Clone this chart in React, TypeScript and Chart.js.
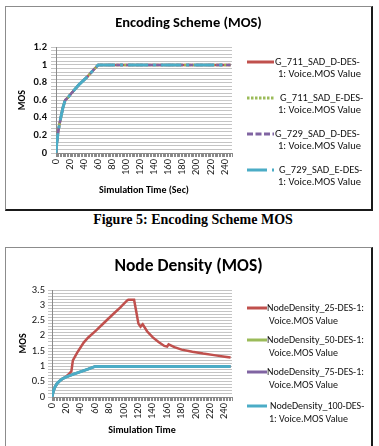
import React, { useEffect, useRef } from "react";
import { Chart, registerables } from "chart.js";

Chart.register(...registerables);

const FONT = "Carlito, Lato, 'Liberation Sans', Arial, sans-serif";

// ---------- Figure 5: Encoding Scheme (MOS) ----------
const ENC_TITLE = "Encoding Scheme (MOS)";
const ENC_X_TITLE = "Simulation Time (Sec)";
const ENC_Y_TITLE = "MOS";
const ENC_X_LABELS = [0, 20, 40, 60, 80, 100, 120, 140, 160, 180, 200, 220, 240];
const ENC_Y_LABELS = [0, 0.2, 0.4, 0.6, 0.8, 1, 1.2];
const ENC_TIME = [0, 1, 3, 5, 7, 10, 13, 17, 21, 33, 45, 55, 60, 248];
const ENC_G711_D = [0, 0.1, 0.24, 0.33, 0.41, 0.52, 0.6, 0.63, 0.67, 0.78, 0.87, 0.96, 1, 1];
const ENC_G711_E = [0, 0.1, 0.24, 0.33, 0.41, 0.52, 0.6, 0.63, 0.67, 0.78, 0.87, 0.96, 1, 1];
const ENC_G729_D = [0, 0.1, 0.24, 0.33, 0.41, 0.52, 0.6, 0.63, 0.67, 0.78, 0.87, 0.96, 1, 1];
const ENC_TIME_G729_E = [0, 1, 3, 5, 7, 10, 13, 17, 21, 33, 45, 55, 60, 238];
const ENC_G729_E = [0, 0.1, 0.24, 0.33, 0.41, 0.52, 0.6, 0.63, 0.67, 0.78, 0.87, 0.96, 1, 1];
const ENC_NAMES = [
  ["G_711_SAD_D-DES-", "1: Voice.MOS Value"],
  ["G_711_SAD_E-DES-", "1: Voice.MOS Value"],
  ["G_729_SAD_D-DES-", "1: Voice.MOS Value"],
  ["G_729_SAD_E-DES-", "1: Voice.MOS Value"],
];
const ENC_CAPTION = "Figure 5: Encoding Scheme MOS";

// ---------- Node Density (MOS) ----------
const ND_TITLE = "Node Density (MOS)";
const ND_X_TITLE = "Simulation Time";
const ND_Y_TITLE = "MOS";
const ND_X_LABELS = [0, 20, 40, 60, 80, 100, 120, 140, 160, 180, 200, 220, 240];
const ND_Y_LABELS = [0, 0.5, 1, 1.5, 2, 2.5, 3, 3.5];
const ND_TIME_25 = [0, 2, 4, 7, 10, 14, 20, 24, 27, 29, 35, 44, 50, 61, 72, 84, 95, 104, 106, 114, 117, 120, 123, 126, 132, 140, 148, 156, 160, 162, 170, 180, 195, 210, 225, 240, 248];
const ND_25 = [0, 0.2, 0.32, 0.44, 0.51, 0.59, 0.68, 0.76, 0.85, 1.2, 1.45, 1.78, 1.94, 2.17, 2.42, 2.69, 2.93, 3.15, 3.18, 3.18, 2.8, 2.4, 2.3, 2.38, 2.15, 1.95, 1.8, 1.67, 1.65, 1.72, 1.63, 1.55, 1.48, 1.42, 1.37, 1.32, 1.29];
const ND_TIME = [0, 2, 4, 7, 10, 14, 20, 30, 40, 50, 60, 248];
const ND_50 = [0, 0.2, 0.32, 0.44, 0.51, 0.59, 0.66, 0.75, 0.83, 0.91, 1, 1];
const ND_75 = [0, 0.2, 0.32, 0.44, 0.51, 0.59, 0.66, 0.75, 0.83, 0.91, 1, 1];
const ND_100 = [0, 0.2, 0.32, 0.44, 0.51, 0.59, 0.66, 0.75, 0.83, 0.91, 1, 1];
const ND_NAMES = [
  ["NodeDensity_25-DES-1:", "Voice.MOS Value"],
  ["NodeDensity_50-DES-1:", "Voice.MOS Value"],
  ["NodeDensity_75-DES-1:", "Voice.MOS Value"],
  ["NodeDensity_100-DES-", "1: Voice.MOS Value"],
];

const RED = "#C0504D";
const GREEN = "#9BBB59";
const PURPLE = "#8064A2";
const CYAN = "#4BACC6";

function zip(xs: number[], ys: number[]) {
  return ys.map((y, i) => ({ x: xs[i], y }));
}

function stepTicks(min: number, max: number, step: number) {
  const out: { value: number }[] = [];
  const n = Math.round((max - min) / step);
  for (let i = 0; i <= n; i++) out.push({ value: +(min + i * step).toFixed(6) });
  return out;
}

function labelIf(list: number[]) {
  return (v: any) => (list.some((l) => Math.abs(l - Number(v)) < 1e-6) ? String(Math.round(Number(v) * 10) / 10) : "");
}

type Ser = { label: string; xs: number[]; ys: number[]; color: string; dash: number[]; width: number; order: number };

function makeConfig(opts: any) {
  return {
    type: "line",
    data: {
      datasets: opts.series.map((s: Ser) => ({
        label: s.label,
        data: zip(s.xs, s.ys),
        borderColor: s.color,
        backgroundColor: s.color,
        borderWidth: s.width,
        borderDash: s.dash,
        pointRadius: 0,
        tension: 0,
        fill: false,
        order: s.order,
        xAxisID: "x",
        yAxisID: "y",
      })),
    },
    options: {
      animation: false,
      responsive: false,
      events: [],
      layout: { padding: 0 },
      plugins: {
        legend: { display: false },
        tooltip: { enabled: false },
        title: {
          display: true,
          text: opts.title,
          color: "#000",
          font: { family: FONT, size: opts.titleSize, weight: "bold" },
          padding: opts.titlePad,
        },
      },
      scales: {
        x: {
          type: "linear",
          min: 0,
          max: opts.xMax,
          afterBuildTicks: (s: any) => {
            s.ticks = stepTicks(0, opts.xMax, 2);
          },
          afterFit: (s: any) => {
            s.height = opts.xHeight;
          },
          grid: { drawOnChartArea: false, drawTicks: true, tickLength: 4, color: "#8a8a8a" },
          border: { display: true, color: "#8a8a8a" },
          ticks: {
            autoSkip: false,
            minRotation: 90,
            maxRotation: 90,
            padding: 2,
            color: "#222",
            font: { family: FONT, size: 10.5 },
            callback: labelIf(opts.xLabels),
          },
          title: {
            display: true,
            text: opts.xTitle,
            color: "#000",
            font: { family: FONT, size: 10, weight: "bold" },
            padding: { top: 0, bottom: opts.xTitlePadBottom },
          },
        },
        y: {
          type: "linear",
          position: "left",
          min: 0,
          max: opts.yMax,
          afterBuildTicks: (s: any) => {
            s.ticks = stepTicks(0, opts.yMax, opts.yMinor);
          },
          afterFit: (s: any) => {
            s.width = opts.yWidth;
          },
          grid: { color: "#c4c4c4", lineWidth: 1, tickLength: opts.yTickLen, drawTicks: true },
          border: { display: true, color: "#8a8a8a" },
          ticks: {
            autoSkip: false,
            padding: opts.yTickPad,
            color: "#111",
            font: { family: FONT, size: 10.5, weight: opts.yTickBold ? "bold" : "normal" },
            callback: labelIf(opts.yLabels),
          },
          title: {
            display: true,
            text: opts.yTitle,
            color: "#000",
            font: { family: FONT, size: 10, weight: "bold" },
            padding: { top: opts.yTitlePadTop, bottom: 0 },
          },
        },
        legendSpace: {
          type: "linear",
          position: "right",
          min: 0,
          max: 1,
          afterFit: (s: any) => {
            s.width = opts.rightSpace;
          },
          grid: { display: false, drawOnChartArea: false },
          border: { display: false },
          ticks: { display: false },
          title: { display: false },
        },
      },
    },
  };
}

function ChartCanvas({ config, left, top, width, height }: any) {
  const ref = useRef<HTMLCanvasElement>(null);
  useEffect(() => {
    if (!ref.current) return;
    const chart = new Chart(ref.current, config);
    return () => chart.destroy();
  }, []);
  return (
    <canvas
      ref={ref}
      width={width}
      height={height}
      style={{ position: "absolute", left, top, width, height, display: "block" }}
    />
  );
}

type LegItem = { lines: string[]; color: string; dash: string; width: number; dx1: number; dx2: number };

function Legend({ items, x0, sampleW, textX, ys, gap, fontSize }: any) {
  return (
    <>
      {items.map((it: LegItem, i: number) => (
        <React.Fragment key={i}>
          <svg
            style={{ position: "absolute", left: x0, top: ys[i] - 4, overflow: "visible" }}
            width={sampleW}
            height={8}
          >
            <line x1={0} y1={4} x2={sampleW} y2={4} stroke={it.color} strokeWidth={it.width} strokeDasharray={it.dash} />
          </svg>
          <div
            style={{
              position: "absolute",
              left: textX + it.dx1,
              top: ys[i] - fontSize * 0.6,
              fontSize,
              lineHeight: fontSize * 1.2 + "px",
              fontFamily: FONT,
              whiteSpace: "nowrap",
              color: "#111",
            }}
          >
            {it.lines[0]}
          </div>
          <div
            style={{
              position: "absolute",
              left: textX + it.dx2,
              top: ys[i] + gap - fontSize * 0.6,
              fontSize,
              lineHeight: fontSize * 1.2 + "px",
              fontFamily: FONT,
              whiteSpace: "nowrap",
              color: "#111",
            }}
          >
            {it.lines[1]}
          </div>
        </React.Fragment>
      ))}
    </>
  );
}

export default function App() {
  const encSeries: Ser[] = [
    { label: ENC_NAMES[0].join(""), xs: ENC_TIME, ys: ENC_G711_D, color: RED, dash: [], width: 2.5, order: 4 },
    { label: ENC_NAMES[1].join(""), xs: ENC_TIME, ys: ENC_G711_E, color: GREEN, dash: [2.5, 1.5], width: 2.5, order: 3 },
    { label: ENC_NAMES[2].join(""), xs: ENC_TIME, ys: ENC_G729_D, color: PURPLE, dash: [7, 3], width: 2.5, order: 2 },
    { label: ENC_NAMES[3].join(""), xs: ENC_TIME_G729_E, ys: ENC_G729_E, color: CYAN, dash: [20, 5, 3, 5], width: 3, order: 1 },
  ];
  const ndSeries: Ser[] = [
    { label: ND_NAMES[0].join(" "), xs: ND_TIME_25, ys: ND_25, color: RED, dash: [], width: 2.5, order: 4 },
    { label: ND_NAMES[1].join(" "), xs: ND_TIME, ys: ND_50, color: GREEN, dash: [], width: 2.5, order: 3 },
    { label: ND_NAMES[2].join(" "), xs: ND_TIME, ys: ND_75, color: PURPLE, dash: [], width: 2.5, order: 2 },
    { label: ND_NAMES[3].join(" "), xs: ND_TIME, ys: ND_100, color: CYAN, dash: [], width: 3, order: 1 },
  ];

  const encConfig = makeConfig({
    series: encSeries,
    title: ENC_TITLE,
    titleSize: 14.5,
    titlePad: { top: 8, bottom: 15 },
    xTitle: ENC_X_TITLE,
    yTitle: ENC_Y_TITLE,
    xLabels: ENC_X_LABELS,
    yLabels: ENC_Y_LABELS,
    xMax: 250,
    yMax: 1.2,
    yMinor: 0.04,
    yWidth: 50,
    xHeight: 56,
    xTitlePadBottom: 13,
    yTitlePadTop: 10,
    rightSpace: 139,
    yTickBold: true,
    yTickLen: 5,
    yTickPad: 4,
  });
  const ndConfig = makeConfig({
    series: ndSeries,
    title: ND_TITLE,
    titleSize: 17.5,
    titlePad: { top: 8, bottom: 13 },
    xTitle: ND_X_TITLE,
    yTitle: ND_Y_TITLE,
    xLabels: ND_X_LABELS,
    yLabels: ND_Y_LABELS,
    xMax: 250,
    yMax: 3.5,
    yMinor: 0.1,
    yWidth: 46,
    xHeight: 49,
    xTitlePadBottom: 10,
    yTitlePadTop: 11,
    rightSpace: 139,
    yTickBold: false,
    yTickLen: 4,
    yTickPad: 3,
  });

  const encLeg: LegItem[] = [
    { lines: ENC_NAMES[0], color: RED, dash: "", width: 3, dx1: 0, dx2: 3 },
    { lines: ENC_NAMES[1], color: GREEN, dash: "2.5,1.5", width: 3, dx1: 5, dx2: 3 },
    { lines: ENC_NAMES[2], color: PURPLE, dash: "6,2.5", width: 3, dx1: 0, dx2: 3 },
    { lines: ENC_NAMES[3], color: CYAN, dash: "20,5,3,5", width: 3, dx1: 4, dx2: 3 },
  ];
  const ndLeg: LegItem[] = [
    { lines: ND_NAMES[0], color: RED, dash: "", width: 3, dx1: 0, dx2: 2 },
    { lines: ND_NAMES[1], color: GREEN, dash: "", width: 3, dx1: 0, dx2: 2 },
    { lines: ND_NAMES[2], color: PURPLE, dash: "", width: 3, dx1: 0, dx2: 2 },
    { lines: ND_NAMES[3], color: CYAN, dash: "", width: 3, dx1: 3, dx2: 2 },
  ];

  const boxStyle = (top: number, height: number): React.CSSProperties => ({
    position: "absolute",
    left: 5,
    top,
    width: 368,
    height,
    boxSizing: "border-box",
    borderLeft: "1px solid #8c8c8c",
    borderTop: "1px solid #8c8c8c",
    borderRight: "2px solid #1a1a1a",
    borderBottom: "2px solid #1a1a1a",
    background: "#fff",
  });

  return (
    <div style={{ position: "fixed", left: 0, top: 0, width: 379, height: 446, background: "#fff", overflow: "hidden" }}>
      <div style={boxStyle(6, 205)} />
      <ChartCanvas config={encConfig} left={6} top={7} width={365} height={202} />
      <Legend items={encLeg} x0={247} sampleW={27} textX={275} ys={[62, 98, 134, 170]} gap={12.5} fontSize={10.5} />
      <div
        style={{
          position: "absolute",
          left: 0,
          top: 211,
          width: 386,
          textAlign: "center",
          fontFamily: "'Liberation Serif', 'Times New Roman', serif",
          fontWeight: "bold",
          fontSize: 14,
          lineHeight: "18px",
          color: "#000",
        }}
      >
        {ENC_CAPTION}
      </div>
      <div style={boxStyle(247, 212)} />
      <ChartCanvas config={ndConfig} left={6} top={248} width={365} height={198} />
      <Legend items={ndLeg} x0={247} sampleW={20} textX={267} ys={[308, 340, 372, 406]} gap={13} fontSize={10} />
    </div>
  );
}
